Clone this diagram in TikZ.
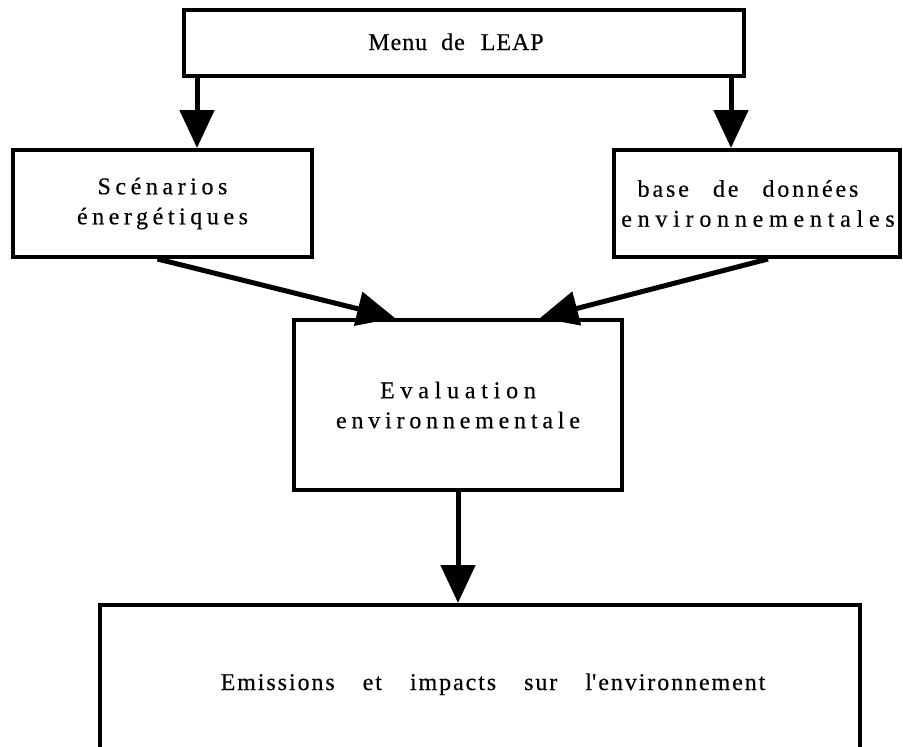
\documentclass[tikz,border=0pt]{standalone}
\usepackage{fontspec}
\setmainfont[FakeBold=0.4]{Liberation Serif}
\usetikzlibrary{arrows.meta}
% letter-spaced text: \trk{amount}{text}
\newcommand{\trk}[2]{{\addfontfeature{LetterSpace=#1}#2}}
\tikzset{
  box/.style={draw, line width=4pt, inner sep=0pt, align=center,
              font=\fontsize{24}{30}\selectfont},
  flow/.style={line width=5pt,
               -{Triangle[length=38pt,width=34pt]}},
  txt/.style={inner sep=0pt, align=center, font=\fontsize{24}{30}\selectfont}
}
\begin{document}
\begin{tikzpicture}[x=1pt,y=-1pt]
  \useasboundingbox (0,0) rectangle (903,747);
  \clip (0,0) rectangle (903,747);

  % boxes
  \node[box, minimum width=560pt, minimum height=66pt] (menu) at (464,43) {};
  \node[txt, anchor=base] (menutext) at (456,50)
    {\trk{4}{Menu}\hspace{14pt}\trk{4}{de}\hspace{16pt}\trk{4}{LEAP}};

  \node[box, minimum width=299pt, minimum height=107pt] (scen) at (162.5,203.5)
    {\trk{19}{Scénarios}\\\trk{19}{énergétiques}};

  \node[box, minimum width=286pt, minimum height=107pt] (base) at (757,203.5) {};
  \node[txt] (basetext) at (758,203.5)
    {\hspace*{-20pt}\trk{12}{base}\hspace{24pt}\trk{12}{de}\hspace{24pt}\trk{12}{données}\\
     \trk{24}{environnementales}};

  \node[box, minimum width=328pt, minimum height=170pt] (eval) at (458,405)
    {\trk{24}{Evaluation}\\\trk{20}{environnementale}};

  \node[box, minimum width=760pt, minimum height=200pt] (emis) at (480,705) {};
  \node[txt, anchor=base] (emistext) at (493,690)
    {\trk{8}{Emissions}\hspace{28pt}\trk{8}{et}\hspace{28pt}\trk{8}{impacts}\hspace{28pt}\trk{8}{sur}\hspace{28pt}\trk{8}{l}\textquotesingle\hspace{2pt}\trk{8}{environnement}};

  % connectors
  \draw[flow] ([xshift=15pt]menu.south west) -- ([xshift=15pt]menu.south west |- scen.north);
  \draw[flow] ([xshift=-15pt]menu.south east) -- ([xshift=-15pt]menu.south east |- base.north);
  \draw[flow] ([xshift=-5pt]scen.south) -- ([xshift=-63pt]eval.north);
  \draw[flow] ([xshift=11pt]base.south) -- ([xshift=82pt]eval.north);
  \draw[flow] (eval.south) -- (eval.south |- emis.north);
\end{tikzpicture}
\end{document}
